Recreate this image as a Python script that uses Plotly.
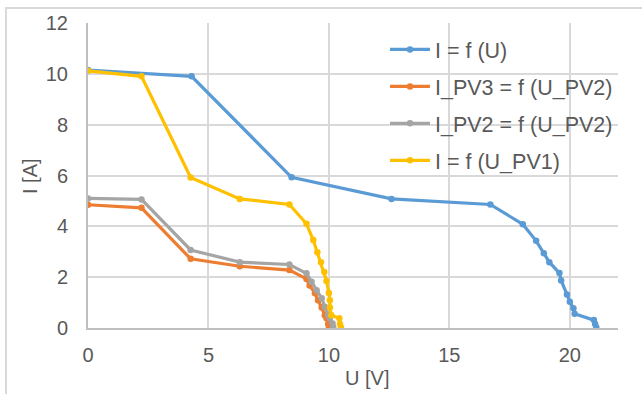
import plotly.graph_objects as go

# I-U characteristic measurements
u_total = [0, 4.3, 8.45, 12.6, 16.7, 18.05, 18.6, 18.92, 19.15, 19.57, 19.64, 19.88, 20.0, 20.15, 20.2, 21.0, 21.05, 21.1]
i_total = [10.15, 9.9, 5.93, 5.08, 4.86, 4.08, 3.43, 2.94, 2.59, 2.16, 1.87, 1.32, 1.03, 0.78, 0.56, 0.31, 0.16, 0.02]

u_pv3 = [0, 2.22, 4.26, 6.3, 8.36, 9.07, 9.2, 9.42, 9.55, 9.7, 9.83, 9.9, 9.97, 10.0]
i_pv3 = [4.85, 4.73, 2.72, 2.43, 2.28, 1.93, 1.67, 1.37, 1.09, 0.81, 0.5, 0.38, 0.16, 0.03]

u_pv2 = [0, 2.22, 4.26, 6.3, 8.36, 9.07, 9.28, 9.49, 9.7, 9.83, 9.97, 10.04, 10.15, 10.18]
i_pv2 = [5.1, 5.06, 3.07, 2.59, 2.5, 2.15, 1.82, 1.49, 1.17, 0.84, 0.51, 0.38, 0.18, 0.03]

u_pv1 = [0, 2.22, 4.26, 6.3, 8.36, 9.07, 9.35, 9.52, 9.67, 9.81, 9.9, 10.0, 10.04, 10.04, 10.1, 10.43, 10.46, 10.5]
i_pv1 = [10.12, 9.9, 5.92, 5.08, 4.86, 4.1, 3.46, 2.98, 2.59, 2.2, 1.85, 1.38, 1.09, 0.81, 0.5, 0.38, 0.16, 0.02]

series = [
    ("I = f (U)", u_total, i_total, "#5B9BD5"),
    ("I_PV3 = f (U_PV2)", u_pv3, i_pv3, "#ED7D31"),
    ("I_PV2 = f (U_PV2)", u_pv2, i_pv2, "#A5A5A5"),
    ("I = f (U_PV1)", u_pv1, i_pv1, "#FFC000"),
]

x_ticks = [0, 5, 10, 15, 20]
y_ticks = [0, 2, 4, 6, 8, 10, 12]

FONT = "Liberation Sans, Arial, sans-serif"
TEXT = "#595959"

fig = go.Figure()
for k, (name, u, i, col) in enumerate(series):
    fig.add_trace(go.Scatter(
        x=u, y=i, name=name, mode="lines+markers",
        line=dict(color=col, width=3.2),
        marker=dict(color=col, size=6.5),
        legendgroup=f"g{k}",
    ))

W, H = 642, 394
L, R, T, B = 88, 24, 21, 66
pw, ph = W - L - R, H - T - B

def px(xp):
    return (xp - L) / pw

def py(yp):
    return (H - B - yp) / ph

fig.update_layout(
    width=W, height=H,
    margin=dict(l=L, r=R, t=T, b=B),
    paper_bgcolor="white", plot_bgcolor="white",
    font=dict(family=FONT, size=20, color=TEXT),
    showlegend=True,
    legend=dict(
        x=px(385), y=py(27), xanchor="left", yanchor="top",
        bgcolor="rgba(0,0,0,0)", font=dict(size=21.5, color=TEXT),
        tracegroupgap=6, itemwidth=40,
    ),
    xaxis=dict(
        range=[0, 22], tickvals=x_ticks, ticktext=[str(v) for v in x_ticks],
        showgrid=True, gridcolor="#D9D9D9", gridwidth=1.5,
        showline=True, linecolor="#BFBFBF", linewidth=2,
        zeroline=False, ticks="", ticklabelstandoff=8,
        tickfont=dict(size=20, color=TEXT),
    ),
    yaxis=dict(
        range=[0, 12], tickvals=y_ticks, ticktext=[str(v) for v in y_ticks],
        showgrid=True, gridcolor="#D9D9D9", gridwidth=1.5,
        showline=True, linecolor="#BFBFBF", linewidth=2,
        zeroline=False, ticks="", ticklabelstandoff=14,
        tickfont=dict(size=20, color=TEXT),
    ),
    annotations=[
        dict(text="U [V]", xref="paper", yref="paper", x=px(367), y=py(378),
             xanchor="center", yanchor="middle", showarrow=False,
             font=dict(size=20, color=TEXT)),
        dict(text="I [A]", xref="paper", yref="paper", x=px(30), y=py(175),
             xanchor="center", yanchor="middle", showarrow=False, textangle=-90,
             font=dict(size=20, color=TEXT)),
    ],
    shapes=[
        dict(type="rect", xref="paper", yref="paper",
             x0=px(6), x1=px(W + 20), y0=py(H + 20), y1=py(6),
             line=dict(color="#D9D9D9", width=2), fillcolor="rgba(0,0,0,0)",
             layer="below"),
    ],
)

fig.write_html("out.html")
